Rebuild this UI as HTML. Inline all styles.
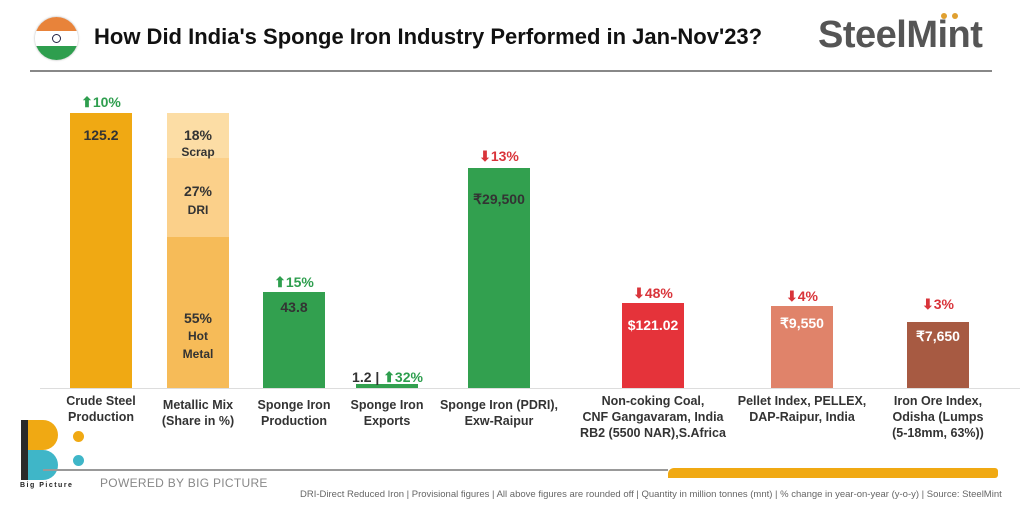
<!DOCTYPE html>
<html><head><meta charset="utf-8"><style>
*{margin:0;padding:0;box-sizing:border-box}
body{width:1024px;height:512px;background:#fff;font-family:"Liberation Sans",sans-serif;position:relative;overflow:hidden;color:#222}
.a{position:absolute}
.bar{position:absolute}
.v{position:absolute;font-weight:bold;font-size:14px;text-align:center;color:#333}
.p{position:absolute;font-weight:bold;font-size:14px;text-align:center}
.g{color:#2e9e4e}.r{color:#d9343a}
.lab{position:absolute;font-size:12.5px;font-weight:bold;color:#333;text-align:center;line-height:16px;transform:translateX(-50%);white-space:nowrap}
</style></head><body>
<div class="a" style="left:35px;top:17px;width:43px;height:43px;border-radius:50%;overflow:hidden;box-shadow:0 0 2px #aaa">
 <div style="height:14px;background:#e8833a"></div><div style="height:15px;background:#fff;position:relative"><div style="position:absolute;left:17px;top:3px;width:9px;height:9px;border:1px solid #224;border-radius:50%"></div></div><div style="height:14px;background:#2e9e4e"></div>
</div>
<div class="a" style="left:94px;top:24px;font-size:22px;font-weight:bold;color:#111;white-space:nowrap">How Did India's Sponge Iron Industry Performed in Jan-Nov'23?</div>
<div class="a" style="left:818px;top:14px;font-size:38px;font-weight:bold;color:#555;letter-spacing:-0.5px;white-space:nowrap">SteelMint</div>
<div class="a" style="left:941px;top:13px;width:6px;height:6px;border-radius:50%;background:#e0a030"></div>
<div class="a" style="left:952px;top:13px;width:6px;height:6px;border-radius:50%;background:#e0a030"></div>
<div class="a" style="left:30px;top:70px;width:962px;height:2px;background:#888"></div>

<div class="a" style="left:40px;top:388px;width:980px;height:1px;background:#ddd"></div>

<div class="bar" style="left:70px;top:113px;width:62px;height:275px;background:#f0a913"></div>
<div class="v" style="left:70px;top:127px;width:62px">125.2</div>
<div class="p g" style="left:70px;top:94px;width:62px">⬆10%</div>

<div class="bar" style="left:167px;top:113px;width:62px;height:45px;background:#fcdda5"></div>
<div class="bar" style="left:167px;top:158px;width:62px;height:79px;background:#fbd08a"></div>
<div class="bar" style="left:167px;top:237px;width:62px;height:151px;background:#f6bb58"></div>
<div class="v" style="left:167px;top:127px;width:62px;line-height:16px">18%<br><span style="font-size:12px">Scrap</span></div>
<div class="v" style="left:167px;top:182px;width:62px;line-height:18px">27%<br><span style="font-size:12px">DRI</span></div>
<div class="v" style="left:167px;top:310px;width:62px;line-height:17px">55%<br><span style="font-size:12px">Hot<br>Metal</span></div>

<div class="bar" style="left:263px;top:292px;width:62px;height:96px;background:#32a04f"></div>
<div class="v" style="left:263px;top:299px;width:62px">43.8</div>
<div class="p g" style="left:263px;top:274px;width:62px">⬆15%</div>

<div class="bar" style="left:356px;top:384px;width:62px;height:4px;background:#32a04f"></div>
<div class="v" style="left:340px;top:369px;width:95px">1.2 | <span class="g">⬆32%</span></div>

<div class="bar" style="left:468px;top:168px;width:62px;height:220px;background:#32a04f"></div>
<div class="v" style="left:463px;top:191px;width:72px">₹29,500</div>
<div class="p r" style="left:468px;top:148px;width:62px">⬇13%</div>

<div class="bar" style="left:622px;top:303px;width:62px;height:85px;background:#e5333a"></div>
<div class="v" style="left:617px;top:317px;width:72px;color:#fff">$121.02</div>
<div class="p r" style="left:622px;top:285px;width:62px">⬇48%</div>

<div class="bar" style="left:771px;top:306px;width:62px;height:82px;background:#e0836a"></div>
<div class="v" style="left:766px;top:315px;width:72px;color:#fff">₹9,550</div>
<div class="p r" style="left:771px;top:288px;width:62px">⬇4%</div>

<div class="bar" style="left:907px;top:322px;width:62px;height:66px;background:#a75a42"></div>
<div class="v" style="left:902px;top:328px;width:72px;color:#fff">₹7,650</div>
<div class="p r" style="left:907px;top:296px;width:62px">⬇3%</div>

<div class="lab" style="left:101px;top:393px">Crude Steel<br>Production</div>
<div class="lab" style="left:198px;top:397px">Metallic Mix<br>(Share in %)</div>
<div class="lab" style="left:294px;top:397px">Sponge Iron<br>Production</div>
<div class="lab" style="left:387px;top:397px">Sponge Iron<br>Exports</div>
<div class="lab" style="left:499px;top:397px">Sponge Iron (PDRI),<br>Exw-Raipur</div>
<div class="lab" style="left:653px;top:393px">Non-coking Coal,<br>CNF Gangavaram, India<br>RB2 (5500 NAR),S.Africa</div>
<div class="lab" style="left:802px;top:393px">Pellet Index, PELLEX,<br>DAP-Raipur, India</div>
<div class="lab" style="left:938px;top:393px">Iron Ore Index,<br>Odisha (Lumps<br>(5-18mm, 63%))</div>

<div class="a" style="left:21px;top:420px;width:18px;height:60px;background:#2a2a2a"></div>
<div class="a" style="left:28px;top:420px;width:30px;height:30px;border-radius:0 15px 15px 0;background:#f0a913"></div>
<div class="a" style="left:28px;top:450px;width:30px;height:30px;border-radius:0 15px 15px 0;background:#3fb6c8"></div>
<div class="a" style="left:73px;top:431px;width:11px;height:11px;border-radius:50%;background:#f0a913"></div>
<div class="a" style="left:73px;top:455px;width:11px;height:11px;border-radius:50%;background:#3fb6c8"></div>
<div class="a" style="left:20px;top:482px;font-size:7px;font-weight:bold;letter-spacing:1.5px">Big Picture</div>
<div class="a" style="left:43px;top:469px;width:625px;height:2px;background:#999"></div>
<div class="a" style="left:668px;top:468px;width:330px;height:10px;background:#f0a913;border-radius:6px 3px 3px 0"></div>
<div class="a" style="left:100px;top:476px;font-size:12px;color:#888;letter-spacing:0.3px">POWERED BY BIG PICTURE</div>
<div class="a" style="left:300px;top:489px;font-size:9.5px;color:#666;white-space:nowrap">DRI-Direct Reduced Iron | Provisional figures | All above figures are rounded off | Quantity in million tonnes (mnt) | % change in year-on-year (y-o-y) | Source: SteelMint</div>
</body></html>
